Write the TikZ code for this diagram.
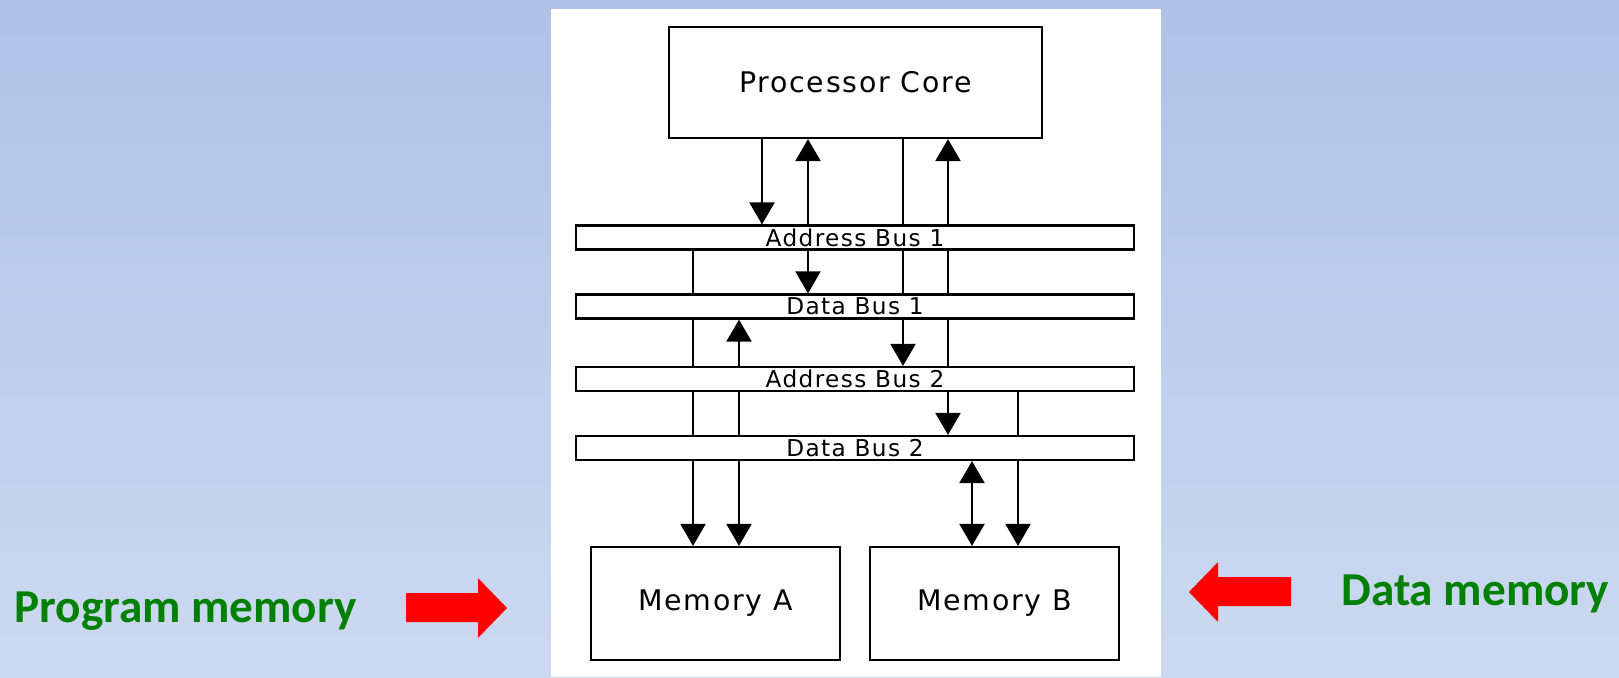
\documentclass[tikz,border=0pt]{standalone}
\usepackage{fontspec}
\usepackage{tikz}
\usetikzlibrary{arrows.meta}

\newfontfamily\figfont[LetterSpace=6]{DejaVu Sans}
\newfontfamily\lblfont{Carlito}
\definecolor{bgtop}{HTML}{AEC2E8}
\definecolor{bgbot}{HTML}{CCD9F0}
\definecolor{lblgreen}{HTML}{008000}

\tikzset{
	unit/.style={draw, line width=1.1pt, fill=white, inner sep=0pt, font=\figfont\fontsize{14.2}{16}\selectfont},
	bus/.style={draw, line width=1.1pt, fill=white, inner sep=0pt, minimum width=279pt, minimum height=12pt, font=\figfont\fontsize{11.6}{12}\selectfont},
	wire/.style={line width=1.1pt},
	feed/.style={line width=1.1pt, -{Triangle[width=12.5pt,length=11pt]}},
	both/.style={line width=1.1pt, {Triangle[width=12.5pt,length=11pt]}-{Triangle[width=12.5pt,length=11pt]}},
	lbl/.style={text=lblgreen, font=\lblfont\bfseries\fontsize{23.6}{28}\selectfont, inner sep=0pt, anchor=base west}
}

\begin{document}
\begin{tikzpicture}[x=0.5pt,y=-0.5pt]
	
	\shade[top color=bgtop, bottom color=bgbot] (0,0) rectangle (1619,677);
	\useasboundingbox (0,0) rectangle (1619,677);
	\fill[white] (551,9) rectangle (1161,677);
	
	\node[unit, minimum width=186.5pt, minimum height=55.5pt] (core) at (855.5,82.5) {Processor Core};
	\node[bus] (ab1) at (855,237.5) {Address Bus 1};
	\node[bus] (db1) at (855,306.5) {Data Bus 1};
	\node[bus] (ab2) at (855,379) {Address Bus 2};
	\node[bus] (db2) at (855,448) {Data Bus 2};
	\node[unit, minimum width=124.5pt, minimum height=56.5pt] (mema) at (715.5,603.5) {Memory A};
	\node[unit, minimum width=124.5pt, minimum height=56.5pt] (memb) at (994.5,603.5) {Memory B};
	
	% wire columns
	\coordinate (c1) at (693,0);
	\coordinate (c2) at (739,0);
	\coordinate (c3) at (762,0);
	\coordinate (c4) at (808,0);
	\coordinate (c5) at (903,0);
	\coordinate (c6) at (948,0);
	\coordinate (c7) at (972,0);
	\coordinate (c8) at (1018,0);
	
	% core - address bus 1
	\draw[feed] (c3 |- core.south) -- (c3 |- ab1.north);
	\draw[feed] (c4 |- ab1.north) -- (c4 |- core.south);
	\draw[wire] (c5 |- core.south) -- (c5 |- ab1.north);
	\draw[feed] (c6 |- ab1.north) -- (c6 |- core.south);
	
	% address bus 1 - data bus 1
	\draw[wire] (c1 |- ab1.south) -- (c1 |- db1.north);
	\draw[feed] (c4 |- ab1.south) -- (c4 |- db1.north);
	\draw[wire] (c5 |- ab1.south) -- (c5 |- db1.north);
	\draw[wire] (c6 |- ab1.south) -- (c6 |- db1.north);
	
	% data bus 1 - address bus 2
	\draw[wire] (c1 |- db1.south) -- (c1 |- ab2.north);
	\draw[feed] (c2 |- ab2.north) -- (c2 |- db1.south);
	\draw[feed] (c5 |- db1.south) -- (c5 |- ab2.north);
	\draw[wire] (c6 |- db1.south) -- (c6 |- ab2.north);
	
	% address bus 2 - data bus 2
	\draw[wire] (c1 |- ab2.south) -- (c1 |- db2.north);
	\draw[wire] (c2 |- ab2.south) -- (c2 |- db2.north);
	\draw[feed] (c6 |- ab2.south) -- (c6 |- db2.north);
	\draw[wire] (c8 |- ab2.south) -- (c8 |- db2.north);
	
	% data bus 2 - memories
	\draw[feed] (c1 |- db2.south) -- (c1 |- mema.north);
	\draw[feed] (c2 |- db2.south) -- (c2 |- mema.north);
	\draw[both] (c7 |- db2.south) -- (c7 |- memb.north);
	\draw[feed] (c8 |- db2.south) -- (c8 |- memb.north);
	
	% side labels
	\node[lbl] (progmem) at (14,622) {Program memory};
	\node[lbl] (datamem) at (1341,605) {Data memory};
	\fill[red] (406,593) -- (478,593) -- (478,578) -- (507,608) -- (478,638) -- (478,622) -- (406,622) -- cycle;
	\fill[red] (1291,577) -- (1218,577) -- (1218,562) -- (1189,592) -- (1218,622) -- (1218,606) -- (1291,606) -- cycle;
	
\end{tikzpicture}
\end{document}
